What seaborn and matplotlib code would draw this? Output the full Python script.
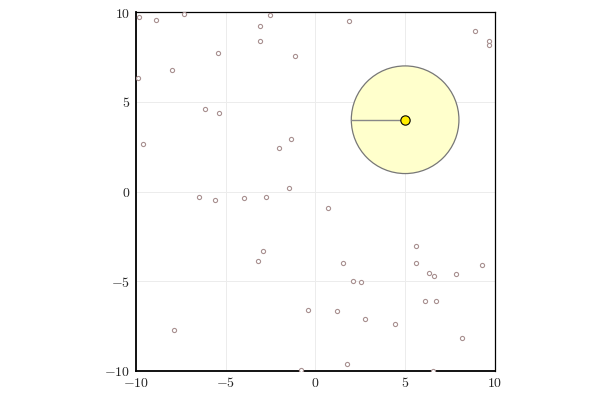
import numpy as np
import pandas as pd
import seaborn as sns
from matplotlib import pyplot as plt
from matplotlib.patches import Circle

# scattered points
xs = [-9.83, -8.89, -7.33, -9.89, -7.99, -5.43, -3.09, -2.53, -3.09, -1.14,
      -6.16, -5.38, -9.61, -1.36, -2.03, -1.48, -6.49, -5.60, -3.98, -2.76,
      -2.92, -3.20, -7.88, -0.42, -0.81, 0.71, 1.51, 2.09, 2.55, 1.21,
      2.76, 4.45, 1.74, 5.60, 5.62, 6.31, 6.62, 7.83, 9.29, 6.10,
      6.70, 8.18, 6.56, 1.88, 8.90, 9.70, 9.70]
ys = [9.75, 9.58, 9.92, 6.35, 6.80, 7.74, 9.25, 9.86, 8.41, 7.58,
      4.62, 4.35, 2.62, 2.90, 2.40, 0.22, -0.33, -0.45, -0.39, -0.33,
      -3.29, -3.90, -7.74, -6.63, -9.97, -0.91, -3.96, -5.01, -5.07, -6.65,
      -7.13, -7.39, -9.60, -3.06, -3.99, -4.57, -4.70, -4.62, -4.12, -6.09,
      -6.13, -8.15, -10.0, 9.49, 8.97, 8.37, 8.17]

center = (5.0, 4.0)
radius = 3.0
ticks = [-10, -5, 0, 5, 10]

df = pd.DataFrame({'x': xs, 'y': ys})

sns.set_style('white')
plt.rcParams['mathtext.fontset'] = 'cm'

fig = plt.figure(figsize=(6, 4), dpi=100)
ax = fig.add_axes([0.2267, 0.0725, 0.598, 0.8975])

sns.scatterplot(data=df, x='x', y='y', ax=ax, s=9, facecolor='white',
                edgecolor='#a89090', linewidth=0.8, zorder=3)

# circle with radius line and centre dot
ax.add_patch(Circle(center, radius, facecolor='#ffffcc', edgecolor='#777777',
                    linewidth=0.9, zorder=2))
ax.plot([center[0], center[0] - radius], [center[1], center[1]],
        color='#888888', linewidth=1, zorder=3)
sns.scatterplot(x=[center[0]], y=[center[1]], ax=ax, s=45, color='#ffee00',
                edgecolor='black', linewidth=0.8, zorder=4)

ax.set_xlim(-10, 10)
ax.set_ylim(-10, 10)
ax.set_aspect('equal')
ax.set_xticks(ticks)
ax.set_yticks(ticks)
ax.set_xticklabels([f'${t}$' for t in ticks], fontsize=10)
ax.set_yticklabels([f'${t}$' for t in ticks], fontsize=10)
ax.set_xlabel('')
ax.set_ylabel('')
ax.grid(True, color='#ececec', linewidth=0.7, zorder=0)
ax.set_axisbelow(True)
ax.tick_params(direction='in', length=3, width=1, color='black', pad=4)
for side in ['left', 'bottom']:
    ax.spines[side].set_linewidth(1.3)
    ax.spines[side].set_color('black')
for side in ['top', 'right']:
    ax.spines[side].set_linewidth(0.9)
    ax.spines[side].set_color('black')

plt.savefig('out.png', dpi=100)
